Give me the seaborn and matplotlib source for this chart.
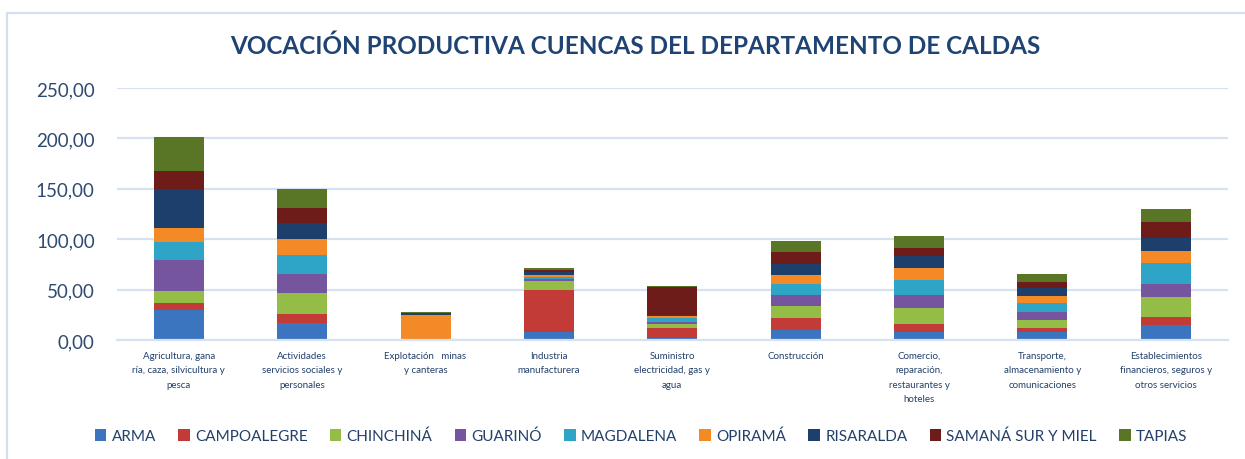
import numpy as np
import pandas as pd
import matplotlib
matplotlib.use("Agg")
import matplotlib.pyplot as plt
from matplotlib.patches import Patch, Rectangle
import seaborn as sns

#%% DATA
categorias = ["Agricultura, gana\nría, caza, silvicultura y\npesca",
              "Actividades\nservicios sociales y\npersonales",
              "Explotación   minas\ny canteras",
              "Industria\nmanufacturera",
              "Suministro\nelectricidad, gas y\nagua",
              "Construcción",
              "Comercio,\nreparación,\nrestaurantes y\nhoteles",
              "Transporte,\nalmacenamiento y\ncomunicaciones",
              "Establecimientos\nfinancieros, seguros y\notros servicios"]

ARMA        = [29.9, 16.9, 0.0, 7.7, 1.7, 10.0, 8.3, 7.6, 15.2]
CAMPOALEGRE = [7.3, 9.0, 0.0, 42.0, 10.0, 12.3, 7.6, 4.3, 7.6]
CHINCHINA   = [11.6, 20.9, 1.0, 9.0, 4.0, 11.0, 15.6, 7.6, 19.5]
GUARINO     = [30.5, 18.6, 0.0, 2.0, 2.0, 11.0, 13.6, 8.6, 13.2]
MAGDALENA   = [17.9, 18.6, 0.0, 2.0, 4.0, 11.0, 14.9, 8.9, 21.2]
OPIRAMA     = [14.3, 16.6, 24.2, 2.0, 2.5, 9.0, 11.9, 6.3, 11.9]
RISARALDA   = [38.8, 15.6, 2.0, 2.3, 1.0, 11.0, 11.3, 8.3, 12.9]
SAMANA      = [17.6, 14.3, 0.0, 2.0, 27.7, 12.3, 7.9, 6.3, 15.6]
TAPIAS      = [33.2, 18.9, 0.3, 2.7, 0.7, 11.0, 11.9, 7.6, 13.2]

cuencas = ["ARMA", "CAMPOALEGRE", "CHINCHINÁ", "GUARINÓ", "MAGDALENA",
           "OPIRAMÁ", "RISARALDA", "SAMANÁ SUR Y MIEL", "TAPIAS"]
series = [ARMA, CAMPOALEGRE, CHINCHINA, GUARINO, MAGDALENA,
          OPIRAMA, RISARALDA, SAMANA, TAPIAS]
colores = ["#3B75BF", "#C23B37", "#94BD48", "#74559E", "#2EA5C6",
           "#F38A26", "#1D3F6C", "#6E1C19", "#587626"]

#%% PLOT
sns.set_style("white")
plt.rcParams['font.family'] = ['Lato', 'DejaVu Sans']

fig = plt.figure(figsize=(12.45, 4.6), dpi=100)
ax = fig.add_axes([0.094, 0.2587, 0.892, 0.5478])

# chart frame (only top / left visible in the crop)
fig.patches.append(Rectangle((0.0056, -0.1), 1.2, 1.0696, transform=fig.transFigure,
                             fill=False, edgecolor="#D3E0F1", linewidth=1.6))

df = pd.DataFrame(dict(zip(cuencas, series)))
df["cat"] = categorias
acum = df[cuencas].cumsum(axis=1)

# stacked bars: draw cumulative totals from the top series down
for name, col in reversed(list(zip(cuencas, colores))):
    sns.barplot(x=df["cat"], y=acum[name], color=col, width=0.405,
                saturation=1, ax=ax, edgecolor="none", linewidth=0)

ax.set_ylim(0, 250)
ax.set_xlim(-0.5, len(categorias) - 0.5)
ax.set_yticks(np.arange(0, 251, 50))
ax.set_yticklabels([f"{v:.2f}".replace(".", ",") for v in np.arange(0, 251, 50)])
ax.yaxis.grid(True, color="#D7E2F1", linewidth=1.6)
ax.set_axisbelow(True)
for s in ["top", "right", "left"]:
    ax.spines[s].set_visible(False)
ax.spines["bottom"].set_color("#D7E2F1")
ax.spines["bottom"].set_linewidth(1.6)
ax.set_xlabel("")
ax.set_ylabel("")
ax.tick_params(axis="y", length=0, pad=16, labelsize=13.5, labelcolor="#2F4A72")
ax.tick_params(axis="x", length=0, pad=8, labelsize=7, labelcolor="#23406B")
for t in ax.get_xticklabels():
    t.set_linespacing(1.75)
    t.set_verticalalignment("top")

fig.text(0.51, 0.9, "VOCACIÓN PRODUCTIVA CUENCAS DEL DEPARTAMENTO DE CALDAS",
         ha="center", va="center", fontsize=17.5, fontweight="bold", color="#1F4373")

handles = [Patch(facecolor=c, edgecolor="none", label=n) for n, c in zip(cuencas, colores)]
fig.legend(handles=handles, loc="center", bbox_to_anchor=(0.515, 0.05), ncol=9,
           frameon=False, fontsize=11, handlelength=0.75, handleheight=0.75,
           handletextpad=0.35, columnspacing=1.45, labelcolor="#23406B")

fig.savefig("out.png", dpi=100)
